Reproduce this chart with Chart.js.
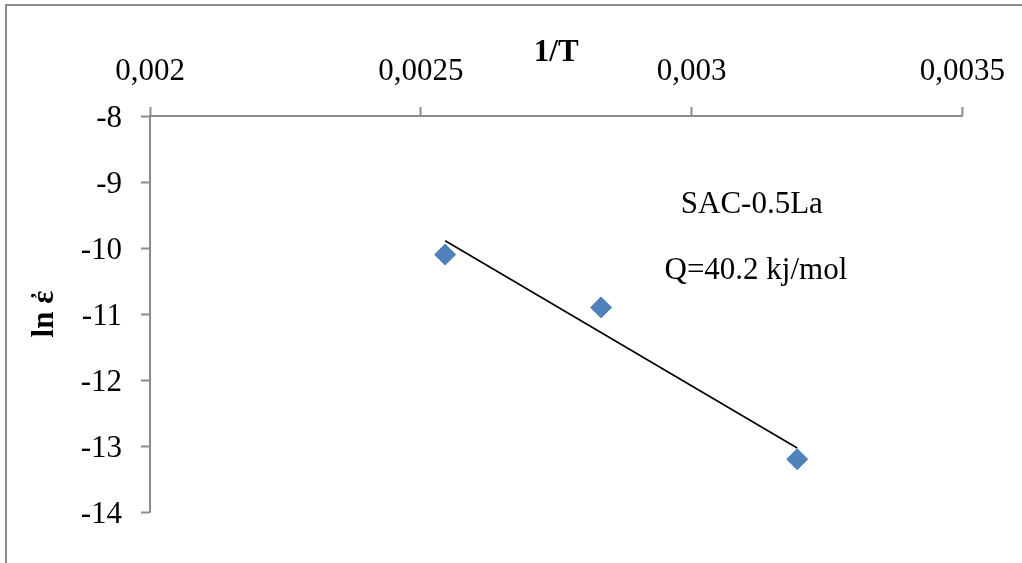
<!DOCTYPE html>
<html>
<head>
<meta charset="utf-8">
<script src="https://cdn.jsdelivr.net/npm/chart.js@4"></script>
<style>
  html, body { margin: 0; padding: 0; background: #fff; overflow: hidden; }
  canvas { display: block; }
</style>
</head>
<body>
<canvas id="chart" width="1022" height="563"></canvas>
<script>
// 1/T values and ln(strain rate)
const invT = [0.002545, 0.002833, 0.003195];
const lnRate = [-10.1, -10.9, -13.2];

// trend line ends (as drawn)
const trendX = [0.002545, 0.003195];
const trendY = [-9.89, -13.03];

const xTickLabels = ['0,002', '0,0025', '0,003', '0,0035'];
const yTickLabels = ['-14', '-13', '-12', '-11', '-10', '-9', '-8'];

const notes = [
    { text: 'SAC-0.5La', x: 0.00298, y: -9.47 },
    { text: 'Q=40.2 kj/mol', x: 0.00295, y: -10.47 }
];

const axisGrey = '#8c8c8c';
const serif = "'Liberation Serif', 'Times New Roman', serif";
const fontSize = 31;

const frame = {
    id: 'frame',
    beforeDraw(chart) {
        const ctx = chart.ctx;
        ctx.save();
        ctx.strokeStyle = axisGrey;
        ctx.lineWidth = 2;
        ctx.strokeRect(6, 5, chart.width + 20, chart.height + 20);
        ctx.restore();
    }
};

const noteText = {
    id: 'noteText',
    afterDatasetsDraw(chart) {
        const ctx = chart.ctx;
        const xs = chart.scales.x, ys = chart.scales.y;
        ctx.save();
        ctx.fillStyle = '#000';
        ctx.font = fontSize + 'px ' + serif;
        ctx.textAlign = 'left';
        ctx.textBaseline = 'alphabetic';
        notes.forEach(n => {
            ctx.fillText(n.text, xs.getPixelForValue(n.x), ys.getPixelForValue(n.y));
        });
        ctx.restore();
    }
};

new Chart(document.getElementById('chart').getContext('2d'), {
    type: 'scatter',
    data: {
        datasets: [
            {
                label: 'data',
                data: invT.map((x, i) => ({ x: x, y: lnRate[i] })),
                pointStyle: 'rectRot',
                pointRadius: 10.5,
                pointHoverRadius: 10.5,
                backgroundColor: '#4F81BD',
                borderColor: '#4F81BD',
                borderWidth: 1
            },
            {
                type: 'line',
                label: 'trend',
                data: trendX.map((x, i) => ({ x: x, y: trendY[i] })),
                borderColor: '#000',
                borderWidth: 1.6,
                pointRadius: 0,
                fill: false
            }
        ]
    },
    options: {
        responsive: false,
        animation: false,
        devicePixelRatio: 1,
        layout: { padding: { left: 0, top: 0, right: 59, bottom: 51 } },
        plugins: {
            legend: { display: false },
            tooltip: { enabled: false }
        },
        scales: {
            x: {
                type: 'linear',
                position: 'top',
                min: 0.002,
                max: 0.0035,
                afterFit: s => { s.height = 116; },
                afterBuildTicks: s => {
                    s.ticks = xTickLabels.map((t, i) => ({ value: 0.002 + i * 0.0005 }));
                },
                ticks: {
                    callback: (v, i) => xTickLabels[i],
                    font: { family: serif, size: fontSize },
                    color: '#000',
                    padding: 17,
                    maxRotation: 0
                },
                grid: { drawOnChartArea: false, tickLength: 9, tickColor: axisGrey, tickWidth: 2 },
                border: { color: axisGrey, width: 2 },
                title: {
                    display: true,
                    text: '1/T',
                    font: { family: serif, size: fontSize, weight: 'bold' },
                    color: '#000',
                    padding: { top: 34, bottom: 0 }
                }
            },
            y: {
                type: 'linear',
                min: -14,
                max: -8,
                afterFit: s => { s.width = 150; },
                ticks: {
                    stepSize: 1,
                    callback: (v, i) => yTickLabels[i],
                    font: { family: serif, size: fontSize },
                    color: '#000',
                    padding: 19,
                    labelOffset: 3
                },
                grid: { drawOnChartArea: false, tickLength: 9, tickColor: axisGrey, tickWidth: 2 },
                border: { color: axisGrey, width: 2 },
                title: {
                    display: true,
                    text: 'ln ἐ',
                    font: { family: serif, size: fontSize, weight: 'bold' },
                    color: '#000',
                    padding: { top: 26, bottom: 0 }
                }
            }
        }
    },
    plugins: [frame, noteText]
});
</script>
</body>
</html>
